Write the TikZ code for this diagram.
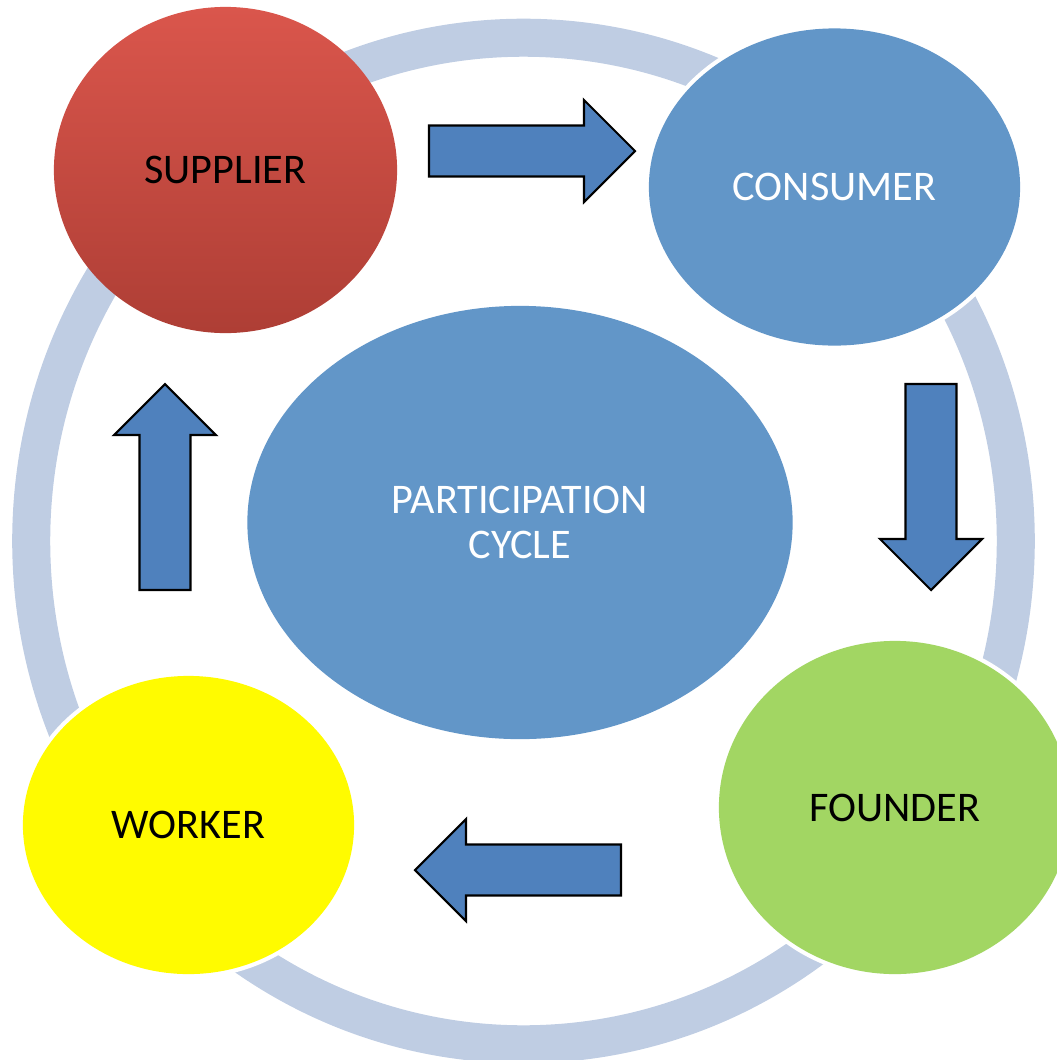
\documentclass[tikz,border=0pt]{standalone}
\usepackage{fontspec}
\setmainfont{Carlito}
\usetikzlibrary{shapes.geometric}

\definecolor{ringblue}{RGB}{191,205,227}
\definecolor{rolblue}{RGB}{98,150,200}
\definecolor{arrowblue}{RGB}{79,129,189}
\definecolor{rolgreen}{RGB}{162,214,99}
\definecolor{rolyellow}{RGB}{255,251,0}
\definecolor{redtop}{RGB}{218,86,76}
\definecolor{redbottom}{RGB}{174,62,53}

\begin{document}
\begin{tikzpicture}[x=0.01cm, y=-0.01cm, role/.style={ellipse, inner sep=0pt, align=center, font=\fontsize{12}{12.8}\selectfont}, halo/.style={preaction={draw=white, line width=2.4pt}}, blockarrow/.style={draw=black, line width=0.6pt, fill=arrowblue, line join=miter},]
   \useasboundingbox (0,0) rectangle (1057,1060);
   \clip (0,0) rectangle (1057,1060);
   \coordinate (hub) at (523.5,541);
   \draw[ringblue, line width=0.38cm] (hub) ellipse [x radius=4.92cm, y radius=5.03cm];

   \node[role, top color=redtop, bottom color=redbottom, minimum width=3.43cm, minimum height=3.26cm] (supplier) at (225.5,170) {SUPPLIER};
   \node[role, halo, fill=rolblue, text=white, minimum width=3.71cm, minimum height=3.17cm] (consumer) at (834.5,187) {CONSUMER};
   \node[role, halo, fill=rolgreen, minimum width=3.52cm, minimum height=3.33cm] (founder) at (895,807.5) {FOUNDER};
   \node[role, halo, fill=rolyellow, minimum width=3.31cm, minimum height=2.98cm] (worker) at (188.5,825) {WORKER};
   \node[role, halo, fill=rolblue, text=white, minimum width=5.45cm, minimum height=4.33cm] (cycle) at (520,522.5) {PARTICIPATION\\CYCLE};

   \foreach \tx/\ty/\ang in {429/151/0, 931/384/-90, 621/870/180, 165/590/90}
      \draw[blockarrow, shift={(\tx,\ty)}, rotate=\ang] (0,-25.5) -- (155,-25.5) -- (155,-51) -- (206,0) -- (155,51) -- (155,25.5) -- (0,25.5) -- cycle;
\end{tikzpicture}
\end{document}
